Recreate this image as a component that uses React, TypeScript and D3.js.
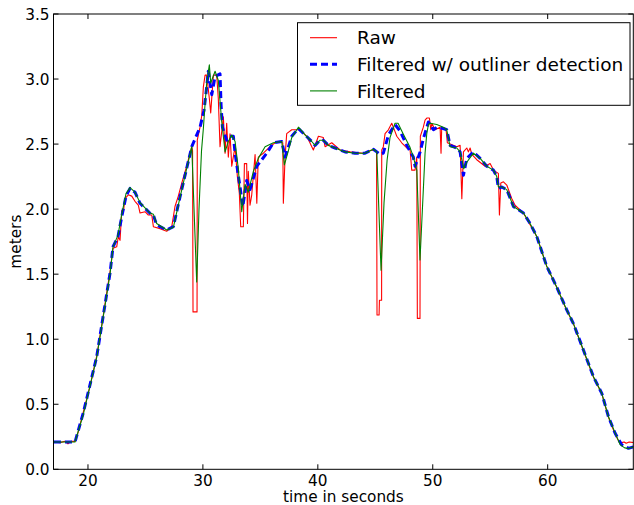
import React from "react";
import * as d3 from "d3";

// [time (s), meters]
const rawSeries: [number, number][] = [
  [17.04, 0.21], [17.57, 0.205], [18.0, 0.215], [18.26, 0.195], [18.52, 0.215], [18.87, 0.215],
  [19.13, 0.28], [19.59, 0.44], [20.18, 0.64], [20.76, 0.87], [21.31, 1.17], [21.74, 1.42],
  [21.92, 1.52], [22.18, 1.7], [22.5, 1.71], [22.64, 1.79], [22.79, 1.76], [22.94, 1.99],
  [23.07, 1.97], [23.22, 2.08], [23.51, 2.11], [23.81, 2.1], [24.09, 2.06], [24.38, 2.03],
  [24.53, 1.97], [24.96, 1.98], [25.25, 1.955], [25.55, 1.955], [25.69, 1.865], [26.27, 1.85],
  [26.85, 1.83], [27.29, 1.865], [27.57, 2.02], [27.86, 2.1], [28.16, 2.2], [28.59, 2.33],
  [28.88, 2.43], [29.03, 2.48], [29.1, 2.45], [29.14, 1.21], [29.49, 1.21], [29.51, 2.53],
  [29.75, 2.63], [29.9, 2.72], [30.04, 2.94], [30.19, 3.03], [30.33, 3.03], [30.56, 2.85],
  [30.68, 2.74], [30.91, 3.03], [31.2, 3.03], [31.34, 2.85], [31.49, 2.48], [31.78, 2.71],
  [31.93, 2.43], [32.07, 2.66], [32.21, 2.4], [32.36, 2.58], [32.51, 2.33], [32.8, 2.48],
  [33.0, 2.25], [33.17, 2.12], [33.29, 1.865], [33.52, 1.865], [33.61, 2.35], [33.81, 2.35],
  [33.88, 1.89], [33.95, 2.29], [34.1, 2.03], [34.25, 2.11], [34.54, 2.42], [34.69, 2.045],
  [34.82, 2.4], [35.26, 2.43], [35.84, 2.48], [36.43, 2.52], [36.95, 2.51], [37.0, 2.045],
  [37.15, 2.4], [37.29, 2.58], [37.73, 2.61], [38.45, 2.61], [39.04, 2.56], [39.61, 2.455],
  [40.05, 2.56], [40.48, 2.55], [40.63, 2.48], [41.21, 2.51], [41.94, 2.455], [42.81, 2.44],
  [43.96, 2.43], [44.69, 2.455], [45.11, 2.45], [45.15, 1.186], [45.33, 1.186], [45.36, 1.3],
  [45.55, 1.3], [45.56, 2.455], [45.7, 2.48], [45.85, 2.58], [46.14, 2.61], [46.43, 2.66],
  [46.57, 2.63], [46.87, 2.56], [47.3, 2.51], [47.74, 2.47], [48.03, 2.455], [48.17, 2.3],
  [48.46, 2.3], [48.61, 2.4], [48.66, 1.16], [48.89, 1.16], [48.92, 2.56], [49.18, 2.63],
  [49.33, 2.685], [49.48, 2.7], [49.71, 2.7], [49.83, 2.61], [49.92, 2.66], [50.2, 2.61],
  [50.64, 2.63], [50.72, 2.43], [50.78, 2.63], [51.16, 2.61], [51.27, 2.51], [52.09, 2.48],
  [52.38, 2.49], [52.53, 2.08], [52.67, 2.44], [52.96, 2.47], [53.1, 2.44], [53.25, 2.47],
  [53.4, 2.42], [53.83, 2.38], [54.55, 2.33], [54.99, 2.35], [55.28, 2.3], [55.71, 2.275],
  [55.8, 1.955], [55.92, 2.2], [56.15, 2.21], [56.44, 2.185], [56.88, 2.08], [57.16, 2.03],
  [57.89, 1.97], [58.47, 1.88], [59.05, 1.79], [59.92, 1.56], [60.79, 1.4], [61.66, 1.22],
  [62.24, 1.12], [63.11, 0.91], [63.98, 0.71], [64.71, 0.58], [65.29, 0.4], [65.87, 0.27],
  [66.22, 0.21], [66.45, 0.205], [66.65, 0.21], [66.83, 0.2], [67.09, 0.21], [67.52, 0.205],
];

const outlierFilteredSeries: [number, number][] = [
  [17.04, 0.21], [18.87, 0.21], [19.59, 0.433], [20.76, 0.866], [21.92, 1.509], [22.18, 1.711],
  [22.61, 1.788], [22.94, 1.942], [23.31, 2.1], [23.66, 2.16], [24.09, 2.13], [24.53, 2.045],
  [25.4, 1.968], [25.69, 1.955], [25.98, 1.878], [26.85, 1.84], [27.43, 1.865], [28.01, 2.095],
  [29.03, 2.48], [29.32, 2.54], [29.75, 2.63], [30.1, 2.76], [30.33, 2.94], [30.47, 3.06],
  [30.77, 2.88], [31.06, 3.02], [31.49, 3.04], [31.58, 2.8], [31.7, 2.63], [32.07, 2.53],
  [32.36, 2.56], [32.65, 2.56], [32.8, 2.43], [33.23, 2.17], [33.47, 2.02], [33.81, 2.22],
  [34.1, 2.15], [34.69, 2.33], [35.56, 2.43], [36.13, 2.51], [36.86, 2.52], [37.15, 2.4],
  [37.44, 2.48], [37.73, 2.56], [38.31, 2.62], [38.89, 2.57], [39.47, 2.52], [39.76, 2.49],
  [40.19, 2.53], [40.48, 2.53], [40.92, 2.49], [41.5, 2.47], [42.37, 2.44], [43.24, 2.43],
  [44.11, 2.43], [44.83, 2.46], [45.13, 2.44], [45.42, 2.42], [45.7, 2.43], [46.14, 2.57],
  [46.57, 2.63], [46.72, 2.65], [47.16, 2.6], [47.74, 2.49], [48.31, 2.4], [48.46, 2.33],
  [48.9, 2.44], [49.18, 2.54], [49.62, 2.67], [50.06, 2.61], [50.35, 2.63], [50.92, 2.62],
  [51.22, 2.61], [51.51, 2.49], [52.09, 2.47], [52.38, 2.44], [52.67, 2.26], [52.96, 2.39],
  [53.54, 2.44], [54.12, 2.39], [54.7, 2.33], [55.28, 2.3], [55.57, 2.25], [55.71, 2.16],
  [56.01, 2.17], [56.44, 2.15], [57.02, 2.02], [57.89, 1.97], [58.47, 1.89], [59.05, 1.79],
  [59.92, 1.56], [60.79, 1.4], [61.66, 1.225], [62.24, 1.12], [63.11, 0.917], [63.98, 0.712],
  [64.71, 0.584], [65.29, 0.404], [65.87, 0.277], [66.45, 0.187], [67.03, 0.161], [67.52, 0.174],
];

const filteredSeries: [number, number][] = [
  [17.04, 0.21], [18.87, 0.21], [19.59, 0.42], [20.76, 0.86], [21.92, 1.5], [22.18, 1.71],
  [22.61, 1.8], [22.94, 1.96], [23.31, 2.12], [23.66, 2.165], [24.09, 2.13], [24.53, 2.05],
  [25.4, 1.97], [25.69, 1.96], [25.98, 1.89], [26.85, 1.84], [27.43, 1.86], [28.01, 2.09],
  [29.03, 2.48], [29.46, 1.44], [29.66, 2.0], [29.88, 2.45], [30.04, 2.62], [30.18, 2.8],
  [30.33, 2.97], [30.56, 3.11], [30.68, 2.97], [31.06, 3.06], [31.34, 2.99], [31.64, 2.67],
  [31.93, 2.44], [32.21, 2.52], [32.51, 2.57], [32.8, 2.52], [33.08, 2.31], [33.38, 1.98],
  [33.67, 2.19], [33.95, 2.13], [34.39, 2.29], [34.82, 2.39], [35.41, 2.48], [36.13, 2.51],
  [36.86, 2.52], [37.09, 2.34], [37.44, 2.45], [37.73, 2.55], [38.31, 2.63], [38.89, 2.57],
  [39.47, 2.52], [39.76, 2.49], [40.19, 2.53], [40.48, 2.53], [40.92, 2.49], [41.5, 2.47],
  [42.37, 2.44], [43.24, 2.43], [44.11, 2.43], [44.83, 2.46], [45.13, 2.44], [45.5, 1.53],
  [45.76, 2.05], [46.03, 2.38], [46.28, 2.55], [46.72, 2.66], [46.98, 2.66], [47.42, 2.58],
  [48.0, 2.48], [48.31, 2.4], [48.61, 2.3], [48.89, 1.61], [49.33, 2.43], [49.48, 2.58],
  [49.62, 2.65], [49.77, 2.66], [50.35, 2.65], [50.92, 2.63], [51.22, 2.61], [51.51, 2.48],
  [52.09, 2.47], [52.38, 2.44], [52.7, 2.31], [52.96, 2.36], [53.54, 2.43], [54.12, 2.39],
  [54.7, 2.33], [55.28, 2.3], [55.57, 2.25], [55.71, 2.17], [56.01, 2.17], [56.44, 2.15],
  [57.02, 2.02], [57.89, 1.97], [58.47, 1.89], [59.05, 1.79], [59.92, 1.56], [60.79, 1.4],
  [61.66, 1.225], [62.24, 1.12], [63.11, 0.917], [63.98, 0.712], [64.71, 0.584], [65.29, 0.404],
  [65.87, 0.28], [66.3, 0.19], [66.7, 0.165], [67.03, 0.16], [67.52, 0.175],
];

const xTicks = [20, 30, 40, 50, 60];
const yTicks = [0, 0.5, 1.0, 1.5, 2.0, 2.5, 3.0, 3.5];
const legendLabels = ["Raw", "Filtered w/ outliner detection", "Filtered"];
const xLabel = "time in seconds";
const yLabel = "meters";

const W = 634;
const H = 505;
const L = 53.5;
const R = 633.3;
const T = 14;
const B = 469.3;
const FONT = "'DejaVu Sans', sans-serif";

export default function App() {
  const x = d3.scaleLinear().domain([17, 67.45]).range([L, R]);
  const y = d3.scaleLinear().domain([0, 3.5]).range([B, T]);
  const line = d3
    .line<[number, number]>()
    .x((d) => x(d[0]))
    .y((d) => y(d[1]));

  const series = [
    { data: rawSeries, color: "#ff0000", width: 1.1, dash: undefined as string | undefined },
    { data: outlierFilteredSeries, color: "#0000ff", width: 3, dash: "7,4" },
    { data: filteredSeries, color: "#008000", width: 1.1, dash: undefined as string | undefined },
  ];

  const tickLen = 5;

  return (
    <svg
      width={W}
      height={H}
      style={{ position: "absolute", left: 0, top: 0, background: "#fff" }}
    >
      <rect x={0} y={0} width={W} height={H} fill="#fff" />
      <defs>
        <clipPath id="plotclip">
          <rect x={L} y={T} width={R - L} height={B - T} />
        </clipPath>
      </defs>
      <g clipPath="url(#plotclip)">
        {series.map((s, i) => (
          <path
            key={i}
            d={line(s.data) || ""}
            fill="none"
            stroke={s.color}
            strokeWidth={s.width}
            strokeDasharray={s.dash}
            strokeLinejoin="round"
          />
        ))}
      </g>
      <rect x={L} y={T} width={R - L} height={B - T} fill="none" stroke="#000" strokeWidth={1} />
      {xTicks.map((t) => (
        <g key={"x" + t}>
          <line x1={x(t)} x2={x(t)} y1={B} y2={B - tickLen} stroke="#000" />
          <line x1={x(t)} x2={x(t)} y1={T} y2={T + tickLen} stroke="#000" />
          <text
            x={x(t)}
            y={486}
            textAnchor="middle"
            fontFamily={FONT}
            fontSize={15.3}
            fill="#000"
          >
            {t}
          </text>
        </g>
      ))}
      {yTicks.map((t) => (
        <g key={"y" + t}>
          <line x1={L} x2={L + tickLen} y1={y(t)} y2={y(t)} stroke="#000" />
          <line x1={R} x2={R - tickLen} y1={y(t)} y2={y(t)} stroke="#000" />
          <text
            x={49.5}
            y={y(t) + 5.5}
            textAnchor="end"
            fontFamily={FONT}
            fontSize={15.3}
            fill="#000"
          >
            {t.toFixed(1)}
          </text>
        </g>
      ))}
      <text
        x={(L + R) / 2}
        y={502}
        textAnchor="middle"
        fontFamily={FONT}
        fontSize={15.3}
        fill="#000"
      >
        {xLabel}
      </text>
      <text
        transform={`translate(20.5, ${(T + B) / 2}) rotate(-90)`}
        textAnchor="middle"
        fontFamily={FONT}
        fontSize={15.3}
        fill="#000"
      >
        {yLabel}
      </text>
      <rect x={297.5} y={22.7} width={332.5} height={82.6} fill="#fff" stroke="#000" strokeWidth={1} />
      {legendLabels.map((lab, i) => {
        const ly = 37.7 + i * 26.6;
        const s = series[i];
        return (
          <g key={lab}>
            <line
              x1={310}
              x2={337}
              y1={ly}
              y2={ly}
              stroke={s.color}
              strokeWidth={s.width}
              strokeDasharray={s.dash}
            />
            <text x={357} y={ly + 6.7} fontFamily={FONT} fontSize={18.5} fill="#000">
              {lab}
            </text>
          </g>
        );
      })}
    </svg>
  );
}
